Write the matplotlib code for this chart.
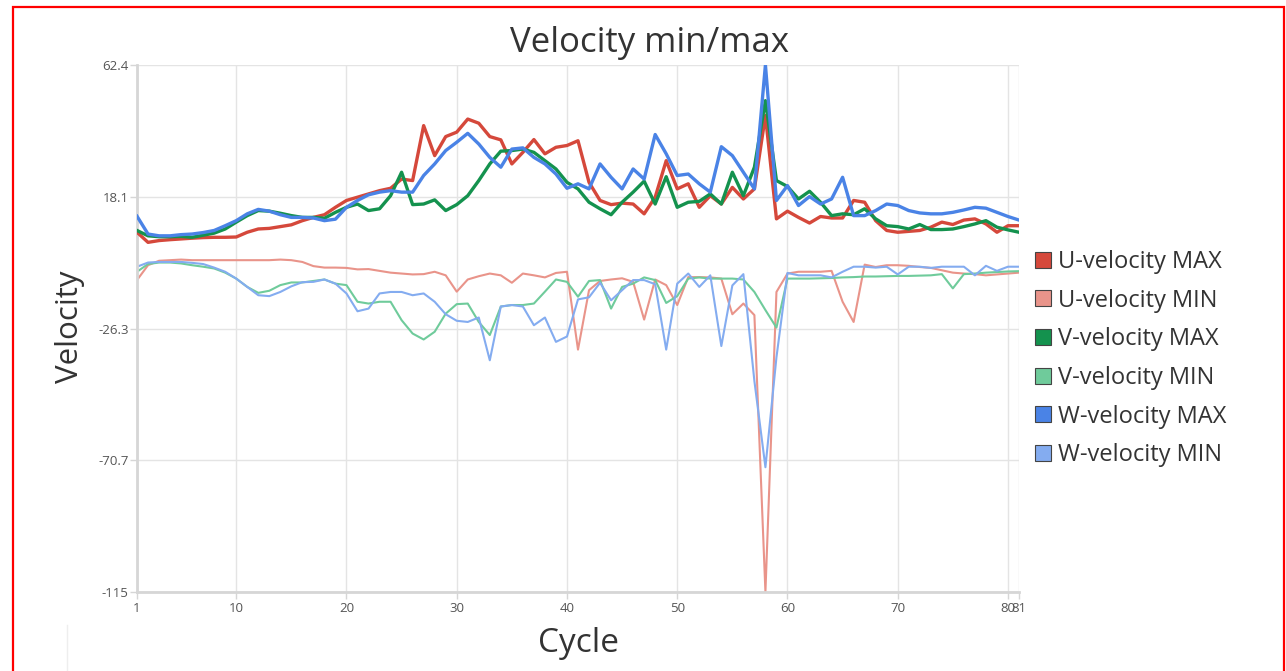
import matplotlib
matplotlib.use("Agg")
import matplotlib.pyplot as plt
from matplotlib.patches import Patch, Rectangle
from matplotlib.lines import Line2D

plt.rcParams['font.family'] = ['Open Sans', 'DejaVu Sans']

# cycles 1..81
cycles = list(range(1, 82))

u_max = [6.1, 2.7, 3.3, 3.6, 3.85, 4.1, 4.3, 4.4, 4.4, 4.5,
         6.1, 7.2, 7.4, 8.0, 8.6, 10.0, 11.1, 12.0, 14.5, 16.8,
         17.9, 19.0, 20.1, 20.9, 24.0, 23.5, 42.0, 31.9, 38.3, 39.8,
         44.2, 42.8, 38.3, 37.2, 29.1, 33.0, 37.3, 32.5, 34.7, 35.3,
         36.9, 22.9, 16.8, 15.4, 15.9, 15.6, 12.3, 17.9, 30.2, 20.7,
         22.4, 14.5, 18.4, 15.6, 21.2, 17.3, 20.7, 45.4, 10.6, 13.2,
         11.1, 9.2, 11.4, 10.9, 10.9, 16.8, 16.2, 10.0, 6.7, 6.1,
         6.4, 6.7, 7.8, 9.5, 8.7, 10.2, 10.6, 8.9, 6.1, 8.3,
         8.3]
u_min = [-10.0, -5.0, -3.5, -3.3, -3.1, -3.3, -3.3, -3.3, -3.3, -3.3,
         -3.3, -3.3, -3.3, -3.1, -3.3, -3.9, -5.3, -5.8, -5.8, -5.9,
         -6.4, -6.3, -6.9, -7.5, -7.8, -8.1, -8.0, -7.2, -8.4, -13.9,
         -9.8, -8.7, -7.8, -8.4, -10.9, -7.8, -8.4, -9.1, -7.6, -7.2,
         -33.4, -13.4, -10.3, -9.8, -9.4, -10.6, -23.3, -9.8, -11.7, -18.4,
         -9.0, -9.0, -9.1, -9.5, -21.5, -17.9, -21.8, -115.0, -14.0, -7.8,
         -7.2, -7.2, -7.2, -6.9, -17.3, -24.1, -4.8, -5.6, -5.0, -5.0,
         -5.2, -5.6, -5.9, -6.7, -7.5, -7.8, -8.0, -8.4, -8.1, -7.8,
         -7.5]
v_max = [6.7, 4.9, 4.6, 4.6, 4.7, 4.4, 5.1, 5.8, 7.2, 9.5,
         11.7, 13.4, 13.2, 12.5, 11.7, 11.1, 11.1, 10.8, 12.8, 14.5,
         15.6, 13.4, 14.0, 18.4, 26.3, 15.4, 15.6, 17.0, 13.4, 15.4,
         18.4, 23.5, 29.1, 33.4, 33.6, 34.1, 33.0, 30.2, 27.4, 22.9,
         20.7, 16.2, 14.0, 12.0, 16.2, 19.6, 23.3, 15.6, 24.8, 14.5,
         16.2, 16.5, 19.0, 15.6, 26.3, 18.4, 28.0, 50.4, 23.5, 21.5,
         17.3, 19.9, 16.2, 11.7, 12.3, 12.0, 14.0, 10.6, 8.3, 8.0,
         7.2, 8.7, 7.0, 7.0, 7.2, 8.0, 8.9, 10.0, 7.8, 6.9,
         6.1]
v_min = [-7.2, -4.6, -4.1, -4.1, -4.4, -5.0, -5.5, -6.1, -7.5, -9.5,
         -12.3, -14.3, -13.6, -11.7, -10.8, -10.8, -10.3, -9.8, -11.2, -11.7,
         -17.3, -17.9, -17.3, -17.3, -23.5, -28.0, -30.0, -27.4, -21.3, -18.1,
         -17.9, -24.1, -28.5, -18.9, -18.4, -18.4, -17.9, -13.9, -9.8, -10.6,
         -15.6, -10.3, -10.0, -19.6, -12.3, -11.2, -9.1, -10.0, -17.7, -15.4,
         -9.5, -9.1, -9.5, -9.5, -9.5, -9.8, -14.0, -20.1, -26.0, -9.5,
         -9.5, -9.5, -9.4, -9.3, -9.1, -9.0, -8.8, -8.8, -8.7, -8.6,
         -8.6, -8.5, -8.4, -8.0, -12.8, -8.0, -7.8, -7.5, -7.3, -7.1,
         -7.0]
w_max = [11.5, 5.5, 4.9, 4.9, 5.3, 5.5, 6.0, 6.7, 8.3, 10.0,
         12.3, 13.8, 13.2, 12.0, 11.1, 11.1, 10.9, 10.0, 10.5, 14.5,
         16.8, 18.7, 19.6, 20.1, 19.6, 19.6, 25.2, 29.1, 33.6, 36.4,
         39.4, 35.8, 31.3, 28.0, 34.1, 34.5, 31.3, 29.1, 25.7, 20.9,
         22.4, 20.7, 29.1, 24.6, 20.7, 27.4, 24.0, 39.0, 32.5, 25.2,
         25.7, 22.4, 19.6, 34.9, 31.9, 26.3, 20.7, 62.4, 16.8, 21.8,
         15.1, 18.1, 15.6, 17.3, 24.6, 11.7, 11.7, 13.4, 15.6, 15.1,
         13.4, 12.6, 12.3, 12.3, 12.8, 13.6, 14.5, 14.2, 12.8, 11.4,
         10.2]
w_min = [-5.5, -4.1, -3.9, -3.9, -3.9, -4.2, -4.6, -5.8, -7.2, -9.5,
         -12.3, -15.1, -15.4, -14.0, -12.1, -10.7, -10.6, -9.8, -11.2, -14.5,
         -20.5, -19.6, -14.5, -14.0, -14.0, -15.1, -14.5, -17.3, -21.5, -23.7,
         -24.1, -22.6, -37.0, -18.9, -18.4, -18.9, -25.2, -22.6, -30.8, -29.0,
         -16.5, -15.8, -10.9, -16.8, -13.4, -10.0, -10.0, -11.4, -33.4, -11.2,
         -7.8, -12.3, -8.4, -32.2, -11.8, -8.0, -44.0, -73.0, -36.0, -7.6,
         -8.4, -8.4, -8.4, -9.1, -7.2, -5.5, -5.5, -5.8, -5.5, -8.1,
         -5.5, -5.5, -5.9, -5.5, -5.5, -5.5, -8.4, -5.2, -6.9, -5.5,
         -5.5]

labels = ["U-velocity MAX", "U-velocity MIN", "V-velocity MAX",
          "V-velocity MIN", "W-velocity MAX", "W-velocity MIN"]
series = [u_max, u_min, v_max, v_min, w_max, w_min]
colors = ["#d5483b", "#e9948a", "#14924e", "#6fcb9b", "#4a83e6", "#84acf0"]
widths = [2.4, 1.5, 2.4, 1.5, 2.4, 1.5]

y_ticks = [62.4, 18.1, -26.3, -70.7, -115]
y_ticklabels = ["62.4", "18.1", "-26.3", "-70.7", "-115"]
x_ticks = [1, 10, 20, 30, 40, 50, 60, 70, 80, 81]

W, H = 1286, 671
fig = plt.figure(figsize=(W / 100, H / 100), dpi=100)
ax = fig.add_axes([137 / W, 1 - 592 / H, 882 / W, 527 / H])

# draw min series first, max series on top
order = [1, 3, 5, 0, 2, 4]
for i in order:
    ax.plot(cycles, series[i], color=colors[i], lw=widths[i],
            solid_joinstyle='round', zorder=3 if i % 2 == 0 else 2)

ax.set_xlim(1, 81)
ax.set_ylim(-115, 62.4)
ax.set_xticks(x_ticks)
ax.set_xticklabels([str(t) for t in x_ticks])
ax.set_yticks(y_ticks)
ax.set_yticklabels(y_ticklabels)
ax.grid(True, color="#e4e4e4", lw=1.0, zorder=0)
ax.set_axisbelow(True)
for s in ['top', 'right']:
    ax.spines[s].set_visible(False)
for s in ['left', 'bottom']:
    ax.spines[s].set_color("#d6d6d6")
    ax.spines[s].set_linewidth(2.0)
ax.tick_params(axis='both', colors="#d6d6d6", length=5, width=1,
               labelcolor="#555555", labelsize=9.5)
ax.tick_params(axis='x', pad=2)
ax.tick_params(axis='y', pad=1)

fig.text(650 / W, 1 - 43 / H, "Velocity min/max", ha='center', va='center',
         fontsize=25, color="#333333")
fig.text(70 / W, 1 - 327 / H, "Velocity", ha='center', va='center',
         rotation=90, fontsize=22.5, color="#333333")
fig.text(578 / W, 1 - 643 / H, "Cycle", ha='center', va='center',
         fontsize=24, color="#333333")

handles = [Patch(facecolor=c, edgecolor="#444444", lw=0.8) for c in colors]
fig.legend(handles, labels, loc='upper left',
           bbox_to_anchor=(1035 / W, 1 - 250 / H), frameon=False,
           fontsize=17, handlelength=0.68, handleheight=0.68,
           handletextpad=0.3, labelspacing=0.62, borderpad=0,
           borderaxespad=0, labelcolor="#333333")

# red frame around the whole picture and faint line at bottom left
fig.patches.append(Rectangle((13 / W, -0.02), (1284 - 13) / W, 1.02 - 7 / H,
                             transform=fig.transFigure, fill=False,
                             edgecolor="#ff0000", lw=1.6))
fig.lines.append(Line2D([67 / W, 67 / W], [0, 1 - 625 / H],
                        transform=fig.transFigure, color="#eeeeee", lw=1))

fig.savefig("out.png", dpi=100)
